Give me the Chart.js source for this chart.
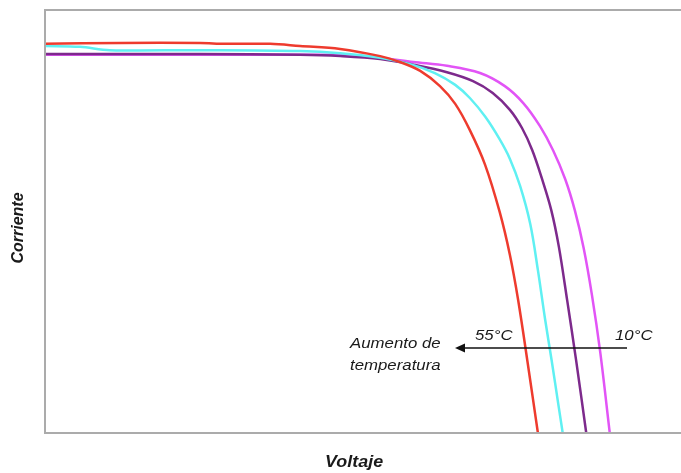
<!DOCTYPE html>
<html lang="es">
<head>
  <meta charset="UTF-8">
  <title>Curvas I-V y temperatura</title>
  <style>
    html, body { margin: 0; padding: 0; background: #fff; }
    .chart-box { position: relative; width: 681px; height: 473px; }
  </style>
</head>
<body>
  <div class="chart-box">
    <canvas id="ivChart"></canvas>
  </div>

  <script src="https://cdn.jsdelivr.net/npm/chart.js"></script>
  <script>
    // Voltaje (% de escala) y corriente (% de escala)
    const v55 = [0, 11.8, 24.4, 28.3, 35.4, 40.1, 46.4, 52.7, 55.8, 59.0, 62.1, 64.5, 66.8, 69.2, 71.5, 73.1, 74.4, 75.9, 77.5];
    const i55 = [92.0, 92.2, 92.2, 92.0, 92.0, 91.5, 90.8, 89.1, 87.7, 85.6, 82.0, 77.8, 71.6, 63.4, 52.2, 42.1, 31.4, 16.5, 0];

    const vCyan = [0, 5.5, 10.2, 24.4, 40.1, 46.4, 52.7, 57.4, 61.3, 64.5, 66.8, 69.2, 71.5, 73.1, 74.7, 76.3, 77.5, 78.6, 79.7, 80.7, 81.4];
    const iCyan = [91.5, 91.3, 90.5, 90.5, 90.3, 89.8, 88.7, 87.2, 85.1, 82.3, 79.2, 74.8, 69.4, 64.8, 58.4, 49.4, 38.5, 27.2, 16.8, 6.9, 0];

    const vPurple = [0, 8.6, 24.4, 40.1, 46.4, 52.7, 58.2, 63.2, 67.3, 70.4, 73.1, 75.0, 76.6, 78.1, 79.6, 80.8, 82.1, 83.5, 85.1];
    const iPurple = [89.6, 89.6, 89.6, 89.4, 89.1, 88.4, 87.0, 85.3, 83.2, 80.4, 76.4, 72.1, 66.9, 60.3, 52.7, 44.0, 31.4, 17.3, 0];

    const v10 = [0, 8.6, 24.4, 40.1, 46.4, 52.7, 57.9, 63.2, 68.4, 72.3, 75.2, 77.8, 79.9, 81.8, 83.3, 84.7, 86.0, 87.3, 88.8];
    const i10 = [89.4, 89.4, 89.4, 89.4, 89.4, 88.7, 87.7, 86.8, 85.1, 82.0, 78.0, 72.6, 66.8, 60.0, 52.7, 43.7, 32.6, 19.1, 0];

    const toPoints = (vs, is) => vs.map((v, k) => ({ x: v, y: is[k] }));

    const serie = (name, vs, is, color) => ({
      label: name,
      data: toPoints(vs, is),
      borderColor: color,
      borderWidth: 2.5,
      pointRadius: 0,
      fill: false,
      tension: 0.35
    });

    // texto con un ligero estiramiento horizontal, como en la figura
    const wideText = (ctx, txt, x, y, font, sx) => {
      ctx.save();
      ctx.font = font;
      ctx.translate(x, y);
      ctx.scale(sx, 1);
      ctx.fillText(txt, 0, 0);
      ctx.restore();
    };

    const frameAndNotes = {
      id: 'frameAndNotes',
      afterDatasetsDraw(chart) {
        const { ctx, chartArea: a } = chart;
        ctx.save();
        // marco
        ctx.strokeStyle = '#ababab';
        ctx.lineWidth = 2;
        ctx.beginPath();
        ctx.moveTo(a.right, a.top);
        ctx.lineTo(a.left, a.top);
        ctx.lineTo(a.left, a.bottom);
        ctx.lineTo(a.right, a.bottom);
        ctx.stroke();

        ctx.fillStyle = '#1a1a1a';
        ctx.textBaseline = 'alphabetic';
        ctx.textAlign = 'left';
        const fam = '"Liberation Sans", Arial, sans-serif';
        wideText(ctx, 'Aumento de', 350, 348, 'italic 15px ' + fam, 1.12);
        wideText(ctx, 'temperatura', 350, 370, 'italic 15px ' + fam, 1.12);
        wideText(ctx, '55°C', 475, 340, 'italic 15px ' + fam, 1.12);
        wideText(ctx, '10°C', 615, 340, 'italic 15px ' + fam, 1.12);
        wideText(ctx, 'Voltaje', 325, 467, 'italic bold 16px ' + fam, 1.12);

        // flecha
        ctx.strokeStyle = '#111';
        ctx.lineWidth = 1.5;
        ctx.beginPath();
        ctx.moveTo(627, 348);
        ctx.lineTo(462, 348);
        ctx.stroke();
        ctx.fillStyle = '#111';
        ctx.beginPath();
        ctx.moveTo(455, 348);
        ctx.lineTo(465, 343.5);
        ctx.lineTo(465, 352.5);
        ctx.closePath();
        ctx.fill();

        // eje vertical
        ctx.fillStyle = '#1a1a1a';
        ctx.translate(19, 228);
        ctx.rotate(-Math.PI / 2);
        ctx.textAlign = 'center';
        ctx.textBaseline = 'middle';
        ctx.font = 'italic bold 16px ' + fam;
        ctx.fillText('Corriente', 0, 0);
        ctx.restore();
      }
    };

    new Chart(document.getElementById('ivChart'), {
      type: 'line',
      data: {
        datasets: [
          serie('55°C', v55, i55, '#ee3b2e'),
          serie('40°C', vCyan, iCyan, '#5ff0f2'),
          serie('25°C', vPurple, iPurple, '#7d2a8c'),
          serie('10°C', v10, i10, '#e254f6')
        ]
      },
      options: {
        responsive: true,
        maintainAspectRatio: false,
        animation: false,
        layout: { padding: { left: 45, top: 10, right: 0, bottom: 40 } },
        scales: {
          x: { type: 'linear', min: 0, max: 100, display: false },
          y: { min: 0, max: 100, display: false }
        },
        plugins: {
          legend: { display: false },
          tooltip: { enabled: false }
        }
      },
      plugins: [frameAndNotes]
    });
  </script>
</body>
</html>
